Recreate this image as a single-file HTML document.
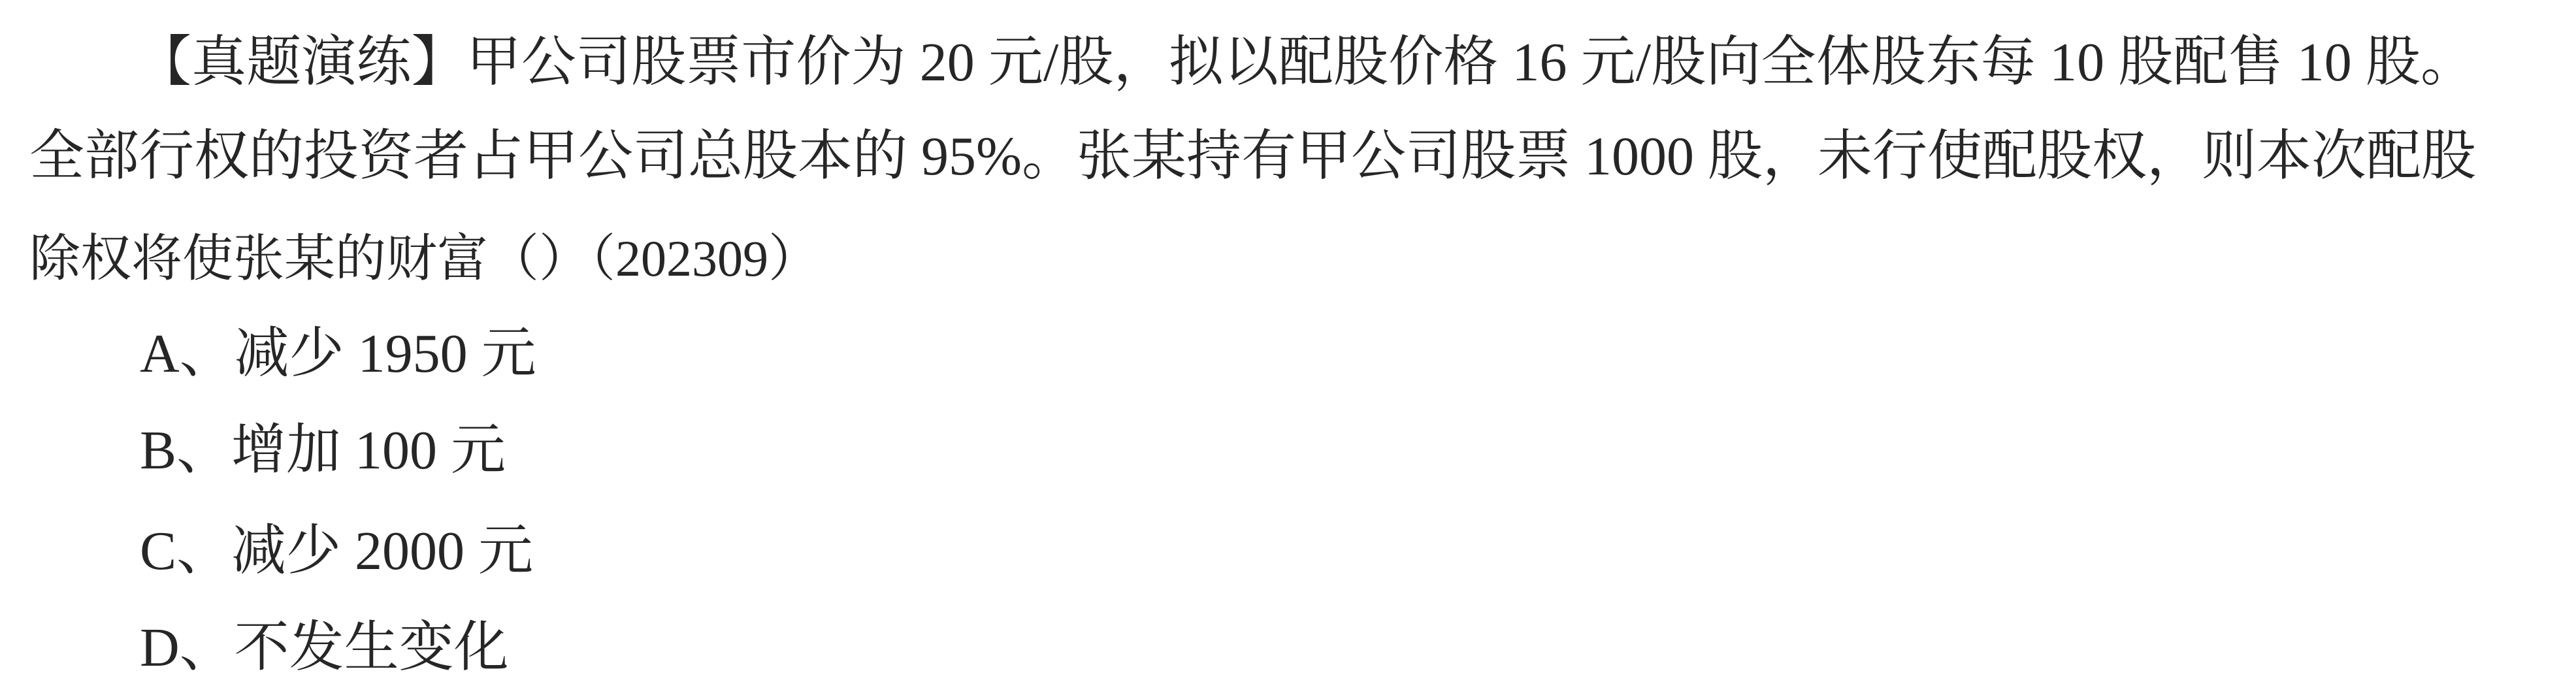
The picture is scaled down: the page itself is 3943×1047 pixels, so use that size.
<!DOCTYPE html>
<html><head><meta charset="utf-8">
<style>
html,body{margin:0;padding:0;background:#fff;}
body{width:3943px;height:1047px;position:relative;overflow:hidden;}
.l{position:absolute;white-space:nowrap;font-family:"Liberation Serif","Noto Serif CJK SC",serif;font-size:84px;line-height:84px;color:#262626;}
.j{text-align:justify;text-align-last:justify;}
</style></head>
<body>
<div class="l j" style="left:209px;top:54px;width:3580px;">【真题演练】甲公司股票市价为 20 元/股，拟以配股价格 16 元/股向全体股东每 10 股配售 10 股。</div>
<div class="l j" style="left:45px;top:198px;width:3745px;">全部行权的投资者占甲公司总股本的 95%。张某持有甲公司股票 1000 股，未行使配股权，则本次配股</div>
<div class="l" style="left:45px;top:354px;font-size:78px;">除权将使张某的财富（）（202309）</div>
<div class="l" style="left:214px;top:500px;">A、减少 1950 元</div>
<div class="l" style="left:214px;top:648px;">B、增加 100 元</div>
<div class="l" style="left:214px;top:802px;">C、减少 2000 元</div>
<div class="l" style="left:214px;top:950px;">D、不发生变化</div>
</body></html>
